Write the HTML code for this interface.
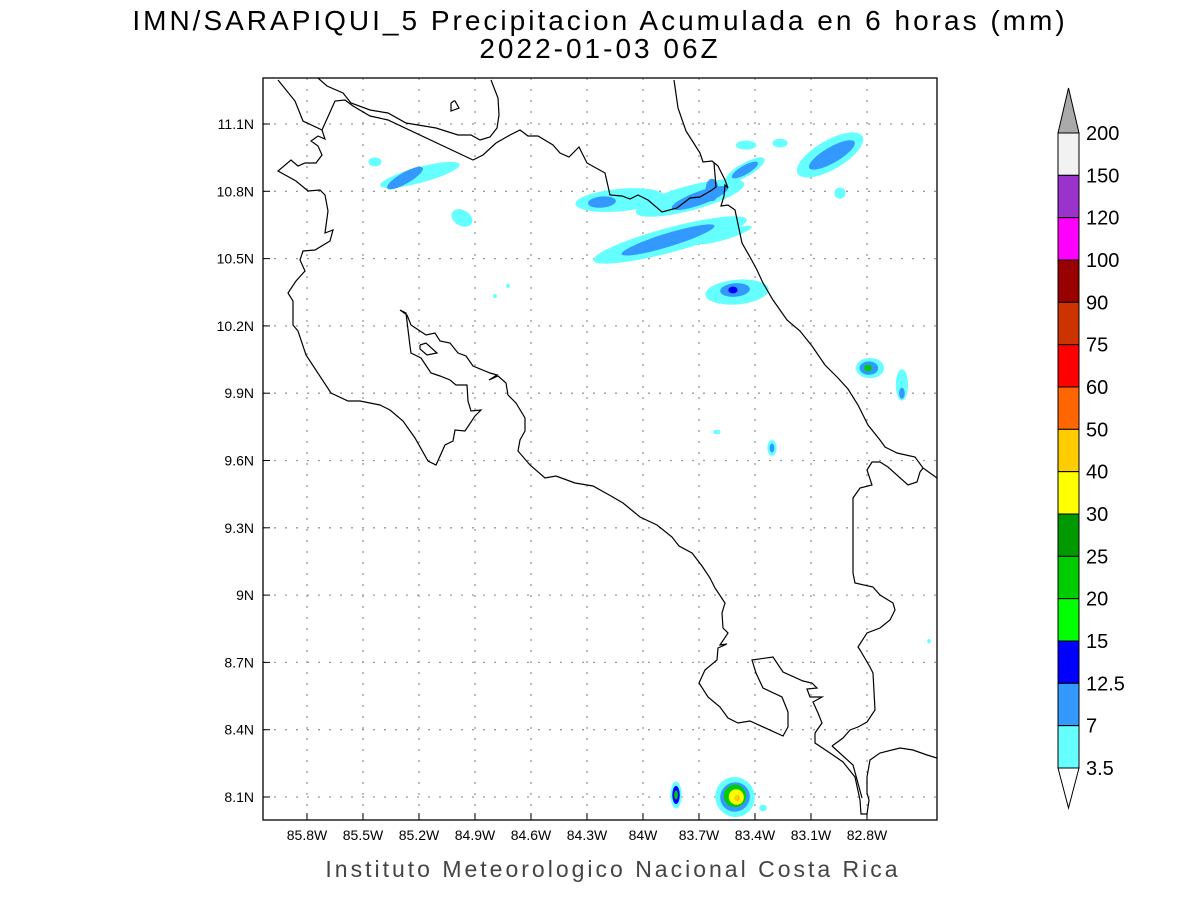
<!DOCTYPE html>
<html><head><meta charset="utf-8"><style>
body{margin:0;background:#fff;width:1200px;height:900px;overflow:hidden}
svg text{font-family:"Liberation Sans",sans-serif}
</style></head><body>
<svg id="chart" width="1200" height="900" xmlns="http://www.w3.org/2000/svg">
<text x="600" y="30" text-anchor="middle" font-size="28" fill="#000" letter-spacing="3">IMN/SARAPIQUI_5 Precipitacion Acumulada en 6 horas (mm)</text>
<text x="600" y="58" text-anchor="middle" font-size="28" fill="#000" letter-spacing="3">2022-01-03 06Z</text>
<defs><clipPath id="mapclip"><rect x="263" y="78" width="674" height="742"/></clipPath></defs>
<g id="grid"></g>
<g id="blobs" clip-path="url(#mapclip)"></g>
<g id="coast" clip-path="url(#mapclip)" fill="none" stroke="#000" stroke-width="1.2"></g>
<rect x="263" y="78" width="674" height="742" fill="none" stroke="#000" stroke-width="1.3"/>
<g id="axes"></g>
<g id="cbar"></g>
<text x="613" y="877" text-anchor="middle" font-size="23" fill="#444" letter-spacing="3">Instituto Meteorologico Nacional Costa Rica</text>
</svg>
<script>
const lonTicks=[-85.8,-85.5,-85.2,-84.9,-84.6,-84.3,-84.0,-83.7,-83.4,-83.1,-82.8];
const lonLabels=["85.8W","85.5W","85.2W","84.9W","84.6W","84.3W","84W","83.7W","83.4W","83.1W","82.8W"];
const latTicks=[11.1,10.8,10.5,10.2,9.9,9.6,9.3,9.0,8.7,8.4,8.1];
const latLabels=["11.1N","10.8N","10.5N","10.2N","9.9N","9.6N","9.3N","9N","8.7N","8.4N","8.1N"];
const levelLabels=["200","150","120","100","90","75","60","50","40","30","25","20","15","12.5","7","3.5"];
const levelColors=["#f2f2f2","#9933cc","#ff00ff","#990000","#cc3300","#ff0000","#ff6600","#ffcc00","#ffff00","#009900","#00cc00","#00ff00","#0000ff","#3399ff","#66ffff"];
const blobLon=[-85.195,-85.275,-85.436,-84.970,-84.793,-84.723,-84.123,-84.220,-83.748,-83.695,-83.630,-83.454,-83.454,-83.448,-83.266,-83.855,-83.561,-83.866,-83.496,-83.507,-83.518,-82.998,-82.988,-82.945,-82.784,-82.790,-82.795,-82.613,-82.613,-83.604,-83.309,-83.309,-82.468,-83.823,-83.823,-83.823,-83.507,-83.507,-83.507,-83.500,-83.495,-83.357];
const blobLat=[10.873,10.859,10.931,10.681,10.333,10.378,10.761,10.752,10.770,10.770,10.806,10.895,10.895,11.006,11.015,10.583,10.605,10.583,10.351,10.360,10.360,10.962,10.962,10.792,10.012,10.012,10.012,9.937,9.900,9.727,9.656,9.656,8.795,8.109,8.109,8.109,8.100,8.100,8.105,8.100,8.095,8.051];
const blobLen=[0.44,0.22,0.07,0.12,0.02,0.02,0.48,0.15,0.60,0.32,0.07,0.24,0.16,0.11,0.08,0.85,0.30,0.52,0.34,0.16,0.05,0.40,0.28,0.06,0.15,0.10,0.04,0.065,0.03,0.04,0.05,0.025,0.02,0.06,0.04,0.02,0.21,0.16,0.12,0.08,0.03,0.04];
const blobWid=[0.07,0.05,0.04,0.07,0.02,0.02,0.10,0.05,0.11,0.06,0.10,0.06,0.04,0.04,0.04,0.11,0.04,0.06,0.11,0.06,0.03,0.13,0.07,0.05,0.09,0.06,0.03,0.14,0.05,0.02,0.07,0.04,0.02,0.12,0.08,0.04,0.18,0.13,0.10,0.07,0.03,0.03];
const blobAng=[-15,-30,0,30,0,0,-5,-5,-15,-20,0,-30,-30,0,0,-15,-17,-17,-5,-5,0,-30,-30,0,0,0,0,0,0,0,0,0,0,0,0,0,-30,-30,-30,-30,0,0];
const blobLvl=[0,1,0,0,0,0,0,1,0,1,1,0,1,0,0,0,0,1,0,1,2,0,1,0,0,1,3,0,1,0,0,1,0,0,2,3,0,1,3,5,6,0];
const blobColors=["#66ffff","#3399ff","#0000ff","#00cc00","#00ff00","#ffff00","#ffcc00"];
const coastPx=[
[[278,80],[295,101],[303,121],[322,130],[325,139],[318,136],[311,141],[318,146],[322,155],[316,163],[305,163],[298,166],[291,160],[278,171],[296,181],[308,191],[320,190],[325,195],[328,211],[325,233],[333,230],[330,241],[315,250],[303,251],[300,260],[305,271],[296,281],[288,293],[293,301],[293,325],[298,331],[306,355],[331,393],[348,401],[360,401],[380,405],[390,410],[403,421],[415,438],[428,461],[436,465],[445,445],[453,441],[455,430],[465,431],[475,416],[481,410],[471,411],[468,401],[467,385],[456,385],[450,380],[440,376],[431,373],[421,358],[411,353],[410,346],[406,313],[400,310],[407,315],[411,325],[426,335],[435,333],[440,341],[450,343],[458,353],[466,356],[473,366],[490,373],[497,375],[489,380],[498,376],[506,383],[508,395],[516,403],[525,418],[525,431],[520,440],[518,451],[530,465],[545,478],[556,476],[575,483],[593,486],[611,496],[623,503],[640,517],[657,525],[672,537],[679,546],[692,553],[702,566],[710,578],[715,588],[725,603],[722,613],[723,628],[728,633],[720,645],[727,644],[718,648],[717,660],[705,670],[699,683],[708,697],[720,707],[728,718],[738,723],[750,721],[783,736],[788,727],[788,712],[782,697],[763,688],[756,673],[752,660],[773,657],[783,672],[803,681],[812,683],[817,688],[807,689],[810,697],[822,697],[813,702],[818,713],[822,723],[815,733],[815,743],[830,753],[843,762],[855,777],[860,800],[861,814],[867,814],[869,800],[867,793],[867,777],[870,760],[880,753],[900,748],[913,750],[927,755],[937,758]],
[[318,78],[327,86],[343,93],[351,103],[370,110],[388,113],[406,123],[436,128],[458,135],[471,135],[480,140],[490,137],[497,128],[499,115],[498,98],[491,80]],
[[322,130],[335,101],[345,100],[353,106],[370,116],[388,120],[473,160],[483,155],[496,143],[510,135],[520,130],[528,136],[538,136],[553,145],[560,153],[569,157],[579,147],[587,163],[605,173],[610,195],[622,196],[630,199],[638,195],[648,200],[662,212],[677,208],[690,198],[700,197],[712,190],[716,187],[714,163]],
[[674,80],[678,108],[686,131],[700,153],[703,162],[712,161],[718,166],[725,180],[728,188],[725,185],[724,196],[721,206],[728,205],[735,210],[742,243],[750,257],[757,270],[763,283],[773,300],[787,320],[800,331],[812,346],[825,365],[838,378],[848,389],[858,405],[868,425],[880,440],[885,447],[897,453],[915,457],[923,468],[937,478]],
[[832,746],[843,738],[850,730],[858,727],[867,722],[875,710],[873,673],[870,667],[860,650],[858,647],[867,633],[880,628],[890,620],[895,610],[893,603],[880,595],[873,587],[855,583],[853,573],[853,498],[860,488],[872,485],[867,470],[872,462],[880,462],[888,467],[908,485],[917,482],[920,472],[923,468]],
[[832,746],[853,765],[862,798]],
[[451,103],[454,101],[455,101],[459,108],[451,111],[451,103]],
[[420,345],[426,343],[437,353],[427,355],[420,349],[420,345]]
];
function xOf(lon){return 307+(lon+85.8)/0.3*56;}
function yOf(lat){return 124+(11.1-lat)/0.3*67.3;}
const NS="http://www.w3.org/2000/svg";
function mk(tag,attrs,parent){const e=document.createElementNS(NS,tag);for(const k in attrs)e.setAttribute(k,attrs[k]);parent.appendChild(e);return e;}
const gridG=document.getElementById('grid'),axesG=document.getElementById('axes');
lonTicks.forEach((lon,i)=>{const x=xOf(lon);
 const l=mk('line',{x1:x,y1:78,x2:x,y2:820,stroke:'#999','stroke-width':1.3,'stroke-dasharray':'2 9'},gridG);
 
 
 const t=mk('line',{x1:x,y1:820,x2:x,y2:813,stroke:'#000'},axesG);
 
 
 const tx=mk('text',{x:x,y:840,'text-anchor':'middle','font-size':14},axesG);tx.textContent=lonLabels[i];
 
 });
latTicks.forEach((lat,i)=>{const y=yOf(lat);
 const l=mk('line',{x1:263,y1:y,x2:937,y2:y,stroke:'#999','stroke-width':1.3,'stroke-dasharray':'2 9'},gridG);
 
 
 const t=mk('line',{x1:263,y1:y,x2:270,y2:y,stroke:'#000'},axesG);
 
 
 const tx=mk('text',{x:254,y:y+5,'text-anchor':'end','font-size':14},axesG);tx.textContent=latLabels[i];
 
 });
const blobsG=document.getElementById('blobs');
blobLon.forEach((lon,i)=>{const cx=xOf(lon),cy=yOf(blobLat[i]);
 const rx=blobLen[i]/0.3*56/2,ry=blobWid[i]/0.3*67.3/2;
 const e=mk('ellipse',{cx:cx,cy:cy,rx:rx,ry:ry,fill:blobColors[blobLvl[i]],transform:`rotate(${blobAng[i]} ${cx} ${cy})`},blobsG);
 
 });
const coastG=document.getElementById('coast');
coastPx.forEach(pl=>{const p=mk('polyline',{points:pl.map(q=>q.join(',')).join(' ')},coastG);
 
 });
const cbG=document.getElementById('cbar');const bx=1058,bw=21,cbTop=133,bh=(768-133)/15;
const tri=mk('polygon',{points:`${bx},${cbTop} ${bx+bw/2},88 ${bx+bw},${cbTop}`,fill:'#aaaaaa',stroke:'#000'},cbG);


levelColors.forEach((c,i)=>{const r=mk('rect',{x:bx,y:cbTop+i*bh,width:bw,height:bh,fill:c,stroke:'#000','stroke-width':1},cbG);
 
 });
const tri2=mk('polygon',{points:`${bx},768 ${bx+bw/2},808 ${bx+bw},768`,fill:'#fff',stroke:'#000'},cbG);


levelLabels.forEach((s,i)=>{const t=mk('text',{x:1086,y:cbTop+i*bh+7,'font-size':20},cbG);t.textContent=s;
 
 });
</script>
</body></html>
